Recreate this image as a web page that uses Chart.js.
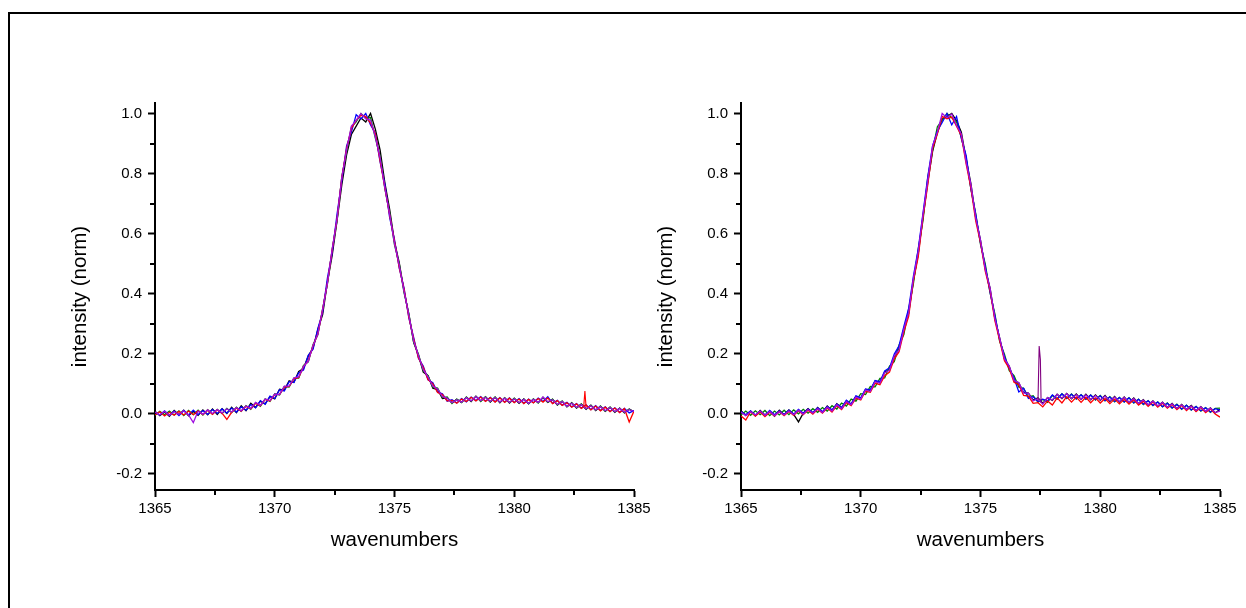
<!DOCTYPE html>
<html>
<head>
<meta charset="utf-8">
<script src="https://cdn.jsdelivr.net/npm/chart.js"></script>
<style>
  html, body { margin: 0; padding: 0; background: #fff; overflow: hidden; width: 1246px; height: 608px; }
  #frame { position: absolute; left: 8px; top: 12px; width: 1300px; height: 700px;
           border-top: 2px solid #000; border-left: 2px solid #000; }
  canvas { position: absolute; top: 0; }
  #left { left: 0; }
  #right { left: 586px; }
</style>
</head>
<body>
<div id="frame"></div>
<canvas id="left" width="660" height="608"></canvas>
<canvas id="right" width="660" height="608"></canvas>
<script>
// Wavenumber grid shared by every spectrum (cm^-1)
const wavenumbers = [
  1365.0,1365.2,1365.4,1365.6,1365.8,1366.0,1366.2,1366.4,1366.6,1366.8,
  1367.0,1367.2,1367.4,1367.6,1367.8,1368.0,1368.2,1368.4,1368.6,1368.8,
  1369.0,1369.2,1369.4,1369.6,1369.8,1370.0,1370.2,1370.4,1370.6,1370.8,
  1371.0,1371.2,1371.4,1371.6,1371.8,1372.0,1372.2,1372.4,1372.6,1372.8,
  1373.0,1373.2,1373.4,1373.6,1373.8,1374.0,1374.2,1374.4,1374.6,1374.8,
  1375.0,1375.2,1375.4,1375.6,1375.8,1376.0,1376.2,1376.4,1376.6,1376.8,
  1377.0,1377.2,1377.4,1377.6,1377.8,1378.0,1378.2,1378.4,1378.6,1378.8,
  1379.0,1379.2,1379.4,1379.6,1379.8,1380.0,1380.2,1380.4,1380.6,1380.8,
  1381.0,1381.2,1381.4,1381.6,1381.8,1382.0,1382.2,1382.4,1382.6,1382.8,
  1383.0,1383.2,1383.4,1383.6,1383.8,1384.0,1384.2,1384.4,1384.6,1384.8,1385.0
];

// Left panel: normalised intensities
const leftBlack = [
  0.008,-0.007,0.005,-0.009,0.010,-0.004,0.011,-0.008,0.007,-0.006,
  0.012,-0.004,0.015,-0.003,0.016,0.000,0.021,0.003,0.026,0.009,
  0.034,0.020,0.041,0.032,0.056,0.049,0.081,0.078,0.109,0.104,
  0.140,0.150,0.192,0.218,0.280,0.330,0.438,0.528,0.642,0.762,
  0.862,0.930,0.958,0.985,0.972,1.000,0.948,0.878,0.768,0.680,
  0.572,0.502,0.408,0.330,0.236,0.194,0.138,0.126,0.084,0.080,
  0.050,0.052,0.036,0.047,0.037,0.054,0.040,0.058,0.042,0.055,
  0.038,0.054,0.036,0.052,0.035,0.050,0.034,0.049,0.032,0.048,
  0.036,0.053,0.037,0.047,0.028,0.041,0.022,0.036,0.018,0.031,
  0.014,0.028,0.010,0.024,0.007,0.021,0.004,0.018,0.002,0.015,0.006
];
const leftGreen = [
  -0.006,0.007,-0.004,0.008,-0.005,0.009,-0.007,0.010,-0.004,0.011,
  -0.005,0.013,-0.002,0.014,0.000,0.017,0.003,0.021,0.007,0.026,
  0.014,0.036,0.024,0.049,0.040,0.066,0.062,0.090,0.088,0.118,
  0.118,0.160,0.172,0.230,0.262,0.350,0.432,0.548,0.642,0.790,
  0.874,0.955,0.972,1.000,0.985,0.986,0.918,0.856,0.748,0.668,
  0.562,0.498,0.402,0.333,0.238,0.198,0.143,0.126,0.088,0.085,
  0.053,0.055,0.033,0.048,0.036,0.055,0.041,0.057,0.040,0.056,
  0.039,0.055,0.037,0.053,0.036,0.051,0.035,0.048,0.033,0.049,
  0.035,0.054,0.038,0.048,0.029,0.041,0.023,0.035,0.019,0.032,
  0.015,0.027,0.011,0.025,0.008,0.021,0.005,0.018,0.003,0.014,0.004
];
const leftBlue = [
  0.004,-0.005,0.009,-0.006,0.008,-0.007,0.010,-0.005,0.011,-0.004,
  0.010,-0.003,0.013,0.000,0.015,0.001,0.018,0.005,0.022,0.011,
  0.030,0.019,0.043,0.031,0.058,0.050,0.079,0.075,0.106,0.103,
  0.136,0.145,0.194,0.214,0.284,0.338,0.452,0.536,0.664,0.776,
  0.892,0.938,0.996,0.982,1.000,0.962,0.934,0.838,0.764,0.652,
  0.580,0.484,0.418,0.318,0.254,0.184,0.158,0.112,0.103,0.071,
  0.066,0.041,0.046,0.035,0.050,0.039,0.055,0.043,0.056,0.041,
  0.054,0.039,0.053,0.038,0.052,0.037,0.050,0.034,0.048,0.036,
  0.051,0.040,0.056,0.034,0.044,0.028,0.037,0.022,0.033,0.018,
  0.029,0.013,0.026,0.010,0.022,0.007,0.019,0.004,0.017,0.002,0.010
];
const leftRed = [
  -0.005,0.006,-0.008,0.004,-0.006,0.007,-0.005,0.008,-0.004,0.009,
  -0.004,0.011,-0.003,0.012,0.001,-0.020,0.004,0.018,0.008,0.024,
  0.016,0.034,0.026,0.047,0.042,0.063,0.064,0.088,0.090,0.116,
  0.120,0.156,0.176,0.226,0.266,0.346,0.436,0.546,0.648,0.786,
  0.884,0.950,0.978,0.994,0.990,0.968,0.932,0.842,0.752,0.660,
  0.574,0.486,0.414,0.321,0.249,0.186,0.154,0.113,0.099,0.070,
  0.063,0.042,0.044,0.034,0.048,0.040,0.054,0.042,0.055,0.040,
  0.053,0.038,0.052,0.037,0.051,0.036,0.048,0.033,0.047,0.035,
  0.050,0.038,0.052,0.033,0.043,0.027,0.036,0.021,0.032,0.017,
  0.028,0.012,0.025,0.009,0.021,0.006,0.018,0.003,0.016,-0.028,0.008
];
const leftPurple = [
  0.005,-0.004,0.007,-0.006,0.006,-0.003,0.009,-0.005,-0.030,0.008,
  -0.002,0.012,0.000,0.013,0.002,0.016,0.005,0.020,0.009,0.025,
  0.017,0.037,0.027,0.048,0.043,0.065,0.063,0.091,0.091,0.119,
  0.122,0.157,0.174,0.228,0.264,0.348,0.434,0.550,0.646,0.788,
  0.878,0.958,0.976,1.000,0.982,0.978,0.922,0.852,0.750,0.664,
  0.566,0.494,0.406,0.329,0.241,0.194,0.146,0.122,0.091,0.082,
  0.056,0.051,0.036,0.046,0.038,0.053,0.042,0.056,0.043,0.054,
  0.040,0.053,0.038,0.051,0.037,0.049,0.036,0.047,0.034,0.047,
  0.037,0.055,0.039,0.046,0.030,0.040,0.024,0.034,0.020,0.030,
  0.016,0.026,0.012,0.023,0.009,0.020,0.006,0.017,0.004,0.013,0.007
];
// narrow glitch in the red trace near 1383
const leftSpikeX = [1382.90, 1382.95, 1383.00];
const leftSpikeY = [0.022, 0.075, 0.020];

// Right panel: normalised intensities
const rightBlack = [
  0.009,-0.006,0.008,-0.008,0.010,-0.005,0.007,-0.009,0.011,-0.004,
  0.012,-0.003,-0.028,0.001,0.016,0.002,0.020,0.004,0.025,0.010,
  0.033,0.019,0.042,0.031,0.057,0.050,0.080,0.077,0.108,0.103,
  0.138,0.146,0.190,0.216,0.282,0.334,0.444,0.532,0.656,0.772,
  0.874,0.936,0.982,0.990,1.000,0.976,0.938,0.848,0.766,0.654,
  0.578,0.482,0.418,0.316,0.252,0.182,0.157,0.110,0.102,0.070,
  0.068,0.045,0.052,0.034,0.053,0.044,0.064,0.050,0.067,0.049,
  0.065,0.047,0.064,0.046,0.062,0.044,0.060,0.040,0.057,0.038,
  0.055,0.037,0.052,0.033,0.046,0.028,0.042,0.024,0.038,0.020,
  0.034,0.016,0.030,0.013,0.027,0.009,0.023,0.006,0.019,0.002,0.014
];
const rightGreen = [
  -0.005,0.008,-0.006,0.009,-0.004,0.010,-0.007,0.008,-0.005,0.011,
  -0.004,0.012,-0.001,0.014,0.001,0.016,0.004,0.020,0.008,0.026,
  0.015,0.035,0.025,0.048,0.041,0.066,0.063,0.090,0.089,0.117,
  0.119,0.158,0.173,0.228,0.263,0.348,0.434,0.548,0.644,0.788,
  0.878,0.956,0.978,1.000,0.986,0.972,0.920,0.852,0.748,0.666,
  0.564,0.498,0.402,0.332,0.240,0.198,0.143,0.126,0.088,0.084,
  0.055,0.059,0.038,0.047,0.037,0.060,0.048,0.066,0.050,0.065,
  0.048,0.063,0.047,0.062,0.045,0.060,0.042,0.056,0.039,0.054,
  0.038,0.053,0.035,0.048,0.030,0.043,0.026,0.039,0.022,0.035,
  0.018,0.031,0.014,0.028,0.011,0.024,0.008,0.020,0.004,0.017,0.018
];
const rightBlue = [
  0.006,-0.004,0.009,-0.005,0.007,-0.006,0.010,-0.004,0.009,-0.003,
  0.011,-0.002,0.014,0.001,0.015,0.003,0.019,0.006,0.023,0.012,
  0.031,0.020,0.044,0.032,0.059,0.052,0.082,0.079,0.110,0.106,
  0.142,0.152,0.198,0.226,0.290,0.350,0.458,0.548,0.668,0.790,
  0.892,0.942,0.970,1.000,0.962,0.990,0.916,0.860,0.748,0.664,
  0.568,0.490,0.404,0.326,0.246,0.190,0.150,0.118,0.072,0.084,
  0.050,0.056,0.040,0.048,0.041,0.062,0.049,0.065,0.051,0.064,
  0.049,0.062,0.048,0.061,0.046,0.059,0.043,0.055,0.040,0.053,
  0.039,0.052,0.036,0.047,0.031,0.042,0.027,0.038,0.023,0.034,
  0.019,0.030,0.015,0.027,0.012,0.023,0.009,0.019,0.005,0.016,0.011
];
const rightRed = [
  -0.008,-0.022,0.006,-0.009,0.005,-0.010,0.004,-0.008,0.006,-0.007,
  0.007,-0.006,0.009,-0.004,0.011,-0.002,0.014,0.001,0.018,0.005,
  0.026,0.013,0.036,0.026,0.051,0.045,0.074,0.071,0.101,0.096,
  0.126,0.138,0.182,0.206,0.272,0.324,0.444,0.522,0.654,0.764,
  0.884,0.932,0.990,0.982,0.988,0.958,0.926,0.832,0.752,0.642,
  0.570,0.474,0.410,0.310,0.244,0.176,0.150,0.104,0.096,0.060,
  0.058,0.034,0.036,0.022,0.042,0.028,0.052,0.035,0.056,0.038,
  0.055,0.037,0.054,0.036,0.052,0.035,0.050,0.033,0.048,0.032,
  0.047,0.031,0.046,0.028,0.041,0.024,0.038,0.021,0.034,0.018,
  0.030,0.013,0.027,0.010,0.024,0.006,0.020,0.003,0.016,-0.002,-0.012
];
const rightPurple = [
  0.004,-0.007,0.006,-0.005,0.008,-0.006,0.007,-0.007,0.006,-0.005,
  0.008,-0.004,0.011,-0.002,0.013,0.001,0.016,0.003,0.021,0.008,
  0.029,0.016,0.040,0.029,0.055,0.048,0.078,0.074,0.106,0.101,
  0.136,0.144,0.192,0.212,0.282,0.336,0.452,0.540,0.664,0.778,
  0.892,0.938,1.000,0.986,0.998,0.960,0.932,0.838,0.764,0.652,
  0.578,0.480,0.418,0.316,0.252,0.182,0.158,0.110,0.103,0.068,
  0.068,0.042,0.050,0.031,0.053,0.045,0.064,0.051,0.066,0.050,
  0.063,0.048,0.062,0.047,0.060,0.045,0.058,0.042,0.055,0.040,
  0.054,0.038,0.050,0.034,0.045,0.029,0.041,0.025,0.037,0.021,
  0.032,0.017,0.029,0.014,0.025,0.010,0.022,0.007,0.018,0.003,0.008
];
// cosmic-ray spike in one trace near 1377.5
const rightSpikeX = [1377.40, 1377.45, 1377.50, 1377.53];
const rightSpikeY = [0.040, 0.225, 0.180, 0.035];

// Axis ticks
const xMajor = [1365, 1370, 1375, 1380, 1385];
const xMinor = [1367.5, 1372.5, 1377.5, 1382.5];
const yMajor = [-0.2, 0.0, 0.2, 0.4, 0.6, 0.8, 1.0];
const yMinor = [-0.1, 0.1, 0.3, 0.5, 0.7, 0.9];

const FONT = 'Arial, "Liberation Sans", sans-serif';
const COLORS = { purple: '#a010e0', red: '#ff0000', blue: '#0000ff', green: '#008000', black: '#000000', spike: '#800080' };

function pts(xs, ys) { return xs.map((x, i) => ({ x: x, y: ys[i] })); }

// short outward minor ticks on both axes
const minorTicks = {
  id: 'minorTicks',
  afterDraw(chart, args, opts) {
    const { ctx, chartArea, scales } = chart;
    ctx.save();
    ctx.strokeStyle = '#000';
    ctx.lineWidth = 2;
    ctx.beginPath();
    (opts.x || []).forEach(v => {
      const px = Math.round(scales.x.getPixelForValue(v));
      ctx.moveTo(px, chartArea.bottom);
      ctx.lineTo(px, chartArea.bottom + 5);
    });
    (opts.y || []).forEach(v => {
      const py = Math.round(scales.y.getPixelForValue(v));
      ctx.moveTo(chartArea.left - 5, py);
      ctx.lineTo(chartArea.left, py);
    });
    ctx.stroke();
    ctx.restore();
  }
};

function line(data, color, width) {
  return { data: data, borderColor: color, borderWidth: width || 1.3, pointRadius: 0, tension: 0, fill: false };
}

function makeChart(id, series, spike) {
  const datasets = [
    line(pts(spike.x, spike.y), spike.color, 1.1),
    line(pts(wavenumbers, series.purple), COLORS.purple),
    line(pts(wavenumbers, series.red), COLORS.red),
    line(pts(wavenumbers, series.blue), COLORS.blue),
    line(pts(wavenumbers, series.green), COLORS.green),
    line(pts(wavenumbers, series.black), COLORS.black)
  ];
  return new Chart(document.getElementById(id), {
    type: 'line',
    data: { datasets: datasets },
    options: {
      responsive: false,
      animation: false,
      events: [],
      layout: { padding: { left: 68, right: 26, top: 103, bottom: 55 } },
      plugins: {
        legend: { display: false },
        tooltip: { enabled: false },
        minorTicks: { x: xMinor, y: yMinor }
      },
      scales: {
        x: {
          type: 'linear',
          min: 1365, max: 1385,
          afterBuildTicks: s => { s.ticks = xMajor.map(v => ({ value: v })); },
          afterFit: s => { s.height = 63; s.paddingLeft = 0; s.paddingRight = 0; },
          border: { display: true, color: '#000', width: 2 },
          grid: { display: true, drawOnChartArea: false, drawTicks: true, tickLength: 7, tickWidth: 2, tickColor: '#000' },
          ticks: { color: '#000', padding: 3, maxRotation: 0, autoSkip: false,
                   font: { family: FONT, size: 15 }, callback: v => String(v) },
          title: { display: true, text: 'wavenumbers', color: '#000', padding: 0,
                   font: { family: FONT, size: 20.5 } }
        },
        y: {
          type: 'linear',
          min: -0.255, max: 1.035,
          afterBuildTicks: s => { s.ticks = yMajor.map(v => ({ value: v })); },
          afterFit: s => { s.width = 87; s.paddingTop = 0; s.paddingBottom = 0; },
          border: { display: true, color: '#000', width: 2 },
          grid: { display: true, drawOnChartArea: false, drawTicks: true, tickLength: 7, tickWidth: 2, tickColor: '#000' },
          ticks: { color: '#000', padding: 6, autoSkip: false,
                   font: { family: FONT, size: 15 }, callback: v => Number(v).toFixed(1) },
          title: { display: true, text: 'intensity (norm)', color: '#000', padding: 0,
                   font: { family: FONT, size: 20.5 } }
        }
      }
    },
    plugins: [minorTicks]
  });
}

makeChart('left',
  { black: leftBlack, green: leftGreen, blue: leftBlue, red: leftRed, purple: leftPurple },
  { x: leftSpikeX, y: leftSpikeY, color: COLORS.red });
makeChart('right',
  { black: rightBlack, green: rightGreen, blue: rightBlue, red: rightRed, purple: rightPurple },
  { x: rightSpikeX, y: rightSpikeY, color: COLORS.spike });
</script>
</body>
</html>
